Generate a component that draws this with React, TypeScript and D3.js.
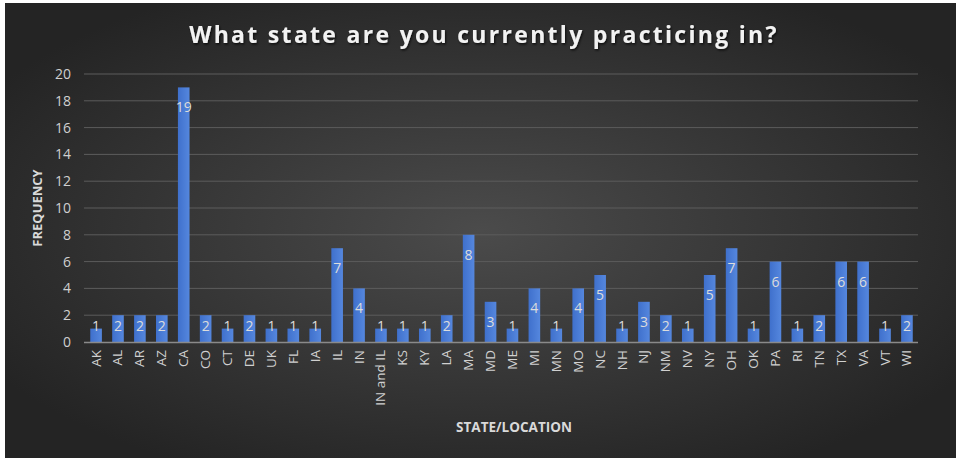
import React, { useEffect } from "react";
import * as d3 from "d3";

const categories = ["AK","AL","AR","AZ","CA","CO","CT","DE","UK","FL","IA","IL","IN","IN and IL","KS","KY","LA","MA","MD","ME","MI","MN","MO","NC","NH","NJ","NM","NV","NY","OH","OK","PA","RI","TN","TX","VA","VT","WI"];
const values = [1,2,2,2,19,2,1,2,1,1,1,7,4,1,1,1,2,8,3,1,4,1,4,5,1,3,2,1,5,7,1,6,1,2,6,6,1,2];
const yTicks = [0,2,4,6,8,10,12,14,16,18,20];
const title = "What state are you currently practicing in?";
const xTitle = "STATE/LOCATION";
const yTitle = "FREQUENCY";

const W = 956, H = 458;
const plot = { left: 85, right: 918, top: 74, bottom: 342 };
const font = "'Open Sans', 'Noto Sans', sans-serif";

export default function App() {
  useEffect(() => {
    document.body.style.margin = "0";
    document.body.style.overflow = "hidden";
  }, []);
  const x = d3.scaleBand<string>().domain(categories).range([plot.left, plot.right]).paddingInner(0.47).paddingOuter(0.24);
  const y = d3.scaleLinear().domain([0, 20]).range([plot.bottom, plot.top]);
  return (
    <svg width={W} height={H} style={{ position: "absolute", left: 0, top: 0, display: "block" }}>
      <defs>
        <radialGradient id="bg" cx="50%" cy="50%" r="60%">
          <stop offset="0%" stopColor="#4b4b4b" />
          <stop offset="100%" stopColor="#242424" />
        </radialGradient>
        <linearGradient id="bar" x1="0" x2="1" y1="0" y2="0">
          <stop offset="0%" stopColor="#3f70cc" />
          <stop offset="100%" stopColor="#5587de" />
        </linearGradient>
        <filter id="sh" x="-5%" y="-20%" width="110%" height="140%">
          <feDropShadow dx="1" dy="1.5" stdDeviation="1" floodColor="#000" floodOpacity="0.7" />
        </filter>
      </defs>
      <rect x={0} y={0} width={W} height={H} fill="#ffffff" />
      <rect x={5} y={3} width={W - 5} height={H - 3} fill="url(#bg)" />
      <text x={484} y={43} textAnchor="middle" fill="#f2f2f2" fontFamily={font} fontWeight={700} fontSize={23} letterSpacing={2.3} filter="url(#sh)">{title}</text>
      {yTicks.map(t => (
        <g key={t}>
          {t > 0 && <line x1={plot.left - 1} x2={plot.right} y1={y(t)} y2={y(t)} stroke="#5c5c5c" strokeWidth={1} />}
          <text x={71} y={y(t)} dy="0.35em" textAnchor="end" fill="#d0d0d0" fontFamily={font} fontSize={14}>{t}</text>
        </g>
      ))}
      {categories.map((c, i) => {
        const v = values[i];
        const top = y(v);
        const ly = Math.min(top + 20, plot.bottom - 16);
        const cx = (x(c) as number) + x.bandwidth() / 2;
        return (
          <g key={c}>
            <rect x={x(c)} y={top} width={x.bandwidth()} height={plot.bottom - top} fill="url(#bar)" />
            <text x={cx} y={ly} dy="0.35em" textAnchor="middle" fill="#dcdcdc" fontFamily={font} fontSize={14}>{v}</text>
            <text transform={`translate(${cx + 4.5},${plot.bottom + 8}) rotate(-90)`} textAnchor="end" fill="#d0d0d0" fontFamily={font} fontSize={13.5}>{c}</text>
          </g>
        );
      })}
      <line x1={plot.left - 1} x2={plot.right} y1={plot.bottom + 0.5} y2={plot.bottom + 0.5} stroke="#8a8a8a" strokeWidth={1.5} />
      <text x={514} y={432} textAnchor="middle" fill="#d9d9d9" fontFamily={font} fontWeight={700} fontSize={13.5}>{xTitle}</text>
      <text transform={`translate(42,${(plot.top + plot.bottom) / 2}) rotate(-90)`} textAnchor="middle" fill="#d9d9d9" fontFamily={font} fontWeight={700} fontSize={13}>{yTitle}</text>
    </svg>
  );
}
